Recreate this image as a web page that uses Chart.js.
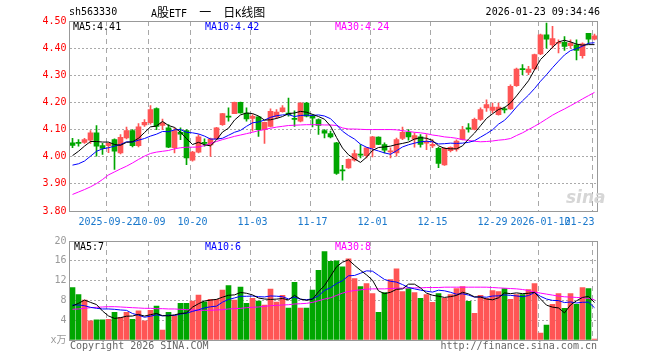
<!DOCTYPE html>
<html><head><meta charset="utf-8">
<script src="https://cdn.jsdelivr.net/npm/chart.js@4.4.1/dist/chart.umd.min.js"></script>
<style>
html,body{margin:0;padding:0;background:#fff;width:660px;height:360px;overflow:hidden;}
#wrap{position:relative;width:660px;height:360px;}
canvas{position:absolute;left:0;}
.t{position:absolute;font-family:"DejaVu Sans Mono",monospace;font-size:10px;line-height:12px;white-space:pre;color:#000;}
.cjk{font-family:"Noto Sans CJK SC",sans-serif;font-size:12px;}
</style></head><body>
<div id="wrap">
<canvas id="pc" width="660" height="236" style="top:0"></canvas>
<canvas id="vc" width="660" height="128" style="top:232px"></canvas>
<div class="t" style="left:69px;top:6px">sh563330</div>
<div class="t" style="left:151px;top:5px;line-height:14px">A<span class="cjk">股</span>ETF  <span class="cjk">一</span>  <span class="cjk">日</span>K<span class="cjk">线图</span></div>
<div class="t" style="right:60px;top:6px">2026-01-23 09:34:46</div>
<div class="t" id="pm5" style="left:73px;top:21px;color:#000"></div>
<div class="t" id="pm10" style="left:205px;top:21px;color:#0000ff"></div>
<div class="t" id="pm30" style="left:335px;top:21px;color:#ff00ff"></div>
<div class="t" id="vm5" style="left:74px;top:241px;color:#000"></div>
<div class="t" id="vm10" style="left:205px;top:241px;color:#0000ff"></div>
<div class="t" id="vm30" style="left:335px;top:241px;color:#ff00ff"></div>
<div class="t" style="left:70px;top:340px;color:#666">Copyright 2026 SINA.COM</div>
<div class="t" style="right:63px;top:340px;color:#666">http://finance.sina.com.cn</div>
<div class="t" style="left:566px;top:188px;font-family:'DejaVu Sans';font-size:17px;font-weight:bold;font-style:italic;color:#d6d6d6;line-height:18px">sina</div>
</div>
<script>
const dates = [
'2025-09-12','2025-09-15','2025-09-16','2025-09-17','2025-09-18','2025-09-19',
'2025-09-22','2025-09-23','2025-09-24','2025-09-25','2025-09-26','2025-09-29','2025-09-30',
'2025-10-09','2025-10-10','2025-10-13','2025-10-14','2025-10-15','2025-10-16','2025-10-17',
'2025-10-20','2025-10-21','2025-10-22','2025-10-23','2025-10-24','2025-10-27','2025-10-28','2025-10-29','2025-10-30','2025-10-31',
'2025-11-03','2025-11-04','2025-11-05','2025-11-06','2025-11-07','2025-11-10','2025-11-11','2025-11-12','2025-11-13','2025-11-14',
'2025-11-17','2025-11-18','2025-11-19','2025-11-20','2025-11-21','2025-11-24','2025-11-25','2025-11-26','2025-11-27','2025-11-28',
'2025-12-01','2025-12-02','2025-12-03','2025-12-04','2025-12-05','2025-12-08','2025-12-09','2025-12-10','2025-12-11','2025-12-12',
'2025-12-15','2025-12-16','2025-12-17','2025-12-18','2025-12-19','2025-12-22','2025-12-23','2025-12-24','2025-12-25','2025-12-26',
'2025-12-29','2025-12-30','2025-12-31',
'2026-01-05','2026-01-06','2026-01-07','2026-01-08','2026-01-09',
'2026-01-12','2026-01-13','2026-01-14','2026-01-15','2026-01-16',
'2026-01-19','2026-01-20','2026-01-21','2026-01-22','2026-01-23'];

const tickDates  = ['2025-09-22','2025-10-09','2025-10-20','2025-11-03','2025-11-17','2025-12-01','2025-12-15','2025-12-29','2026-01-12','2026-01-23'];
const tickLabels = ['2025-09-22','10-09','10-20','11-03','11-17','12-01','12-15','12-29','2026-01-12','01-23     '];

const priceTicks = [3.8,3.9,4.0,4.1,4.2,4.3,4.4,4.5];
const volTicks = [0,4,8,12,16,20];

const open = [4.051,4.051,4.053,4.061,4.088,4.041,4.041,4.063,4.014,4.069,
4.096,4.041,4.117,4.125,4.177,4.115,4.106,4.033,4.090,4.096,
3.987,4.017,4.053,4.043,4.066,4.118,4.148,4.159,4.200,4.161,
4.141,4.147,4.100,4.112,4.147,4.166,4.161,4.141,4.131,4.198,
4.149,4.137,4.096,4.085,4.051,3.952,3.959,3.987,4.010,4.004,
4.033,4.072,4.045,4.018,4.014,4.067,4.090,4.065,4.073,4.050,
4.040,4.031,3.970,4.022,4.028,4.064,4.106,4.101,4.137,4.180,
4.171,4.155,4.176,4.176,4.262,4.325,4.311,4.323,4.379,4.449,
4.412,4.418,4.421,4.409,4.412,4.372,4.455,4.433];

const high = [4.068,4.063,4.068,4.096,4.115,4.049,4.051,4.066,4.082,4.109,
4.100,4.122,4.137,4.188,4.180,4.139,4.118,4.106,4.106,4.100,
4.020,4.082,4.066,4.069,4.108,4.160,4.180,4.201,4.201,4.180,
4.155,4.148,4.128,4.176,4.174,4.188,4.216,4.169,4.199,4.200,
4.155,4.140,4.100,4.094,4.053,3.968,3.992,4.024,4.045,4.034,
4.075,4.073,4.051,4.033,4.069,4.109,4.100,4.088,4.082,4.082,
4.063,4.035,4.034,4.036,4.062,4.112,4.122,4.142,4.180,4.210,
4.198,4.198,4.183,4.265,4.327,4.339,4.333,4.378,4.452,4.492,
4.480,4.431,4.443,4.431,4.431,4.420,4.455,4.452];

const low = [4.033,4.039,4.049,4.049,4.002,4.008,4.015,3.953,4.010,4.066,
4.036,4.036,4.112,4.120,4.100,4.100,4.033,4.014,4.063,3.971,
3.984,4.014,4.039,4.001,4.064,4.115,4.131,4.159,4.160,4.131,
4.094,4.075,4.049,4.110,4.140,4.164,4.149,4.112,4.128,4.147,
4.110,4.082,4.069,4.069,3.935,3.914,3.957,3.984,3.996,3.996,
3.999,4.044,4.014,3.996,4.002,4.063,4.061,4.035,4.035,4.026,
4.033,3.960,3.968,4.018,4.020,4.062,4.090,4.099,4.134,4.167,
4.161,4.153,4.161,4.174,4.259,4.302,4.302,4.321,4.376,4.400,
4.400,4.382,4.392,4.400,4.357,4.363,4.416,4.430];

const close = [4.042,4.049,4.063,4.088,4.039,4.031,4.049,4.020,4.071,4.096,
4.041,4.110,4.127,4.174,4.112,4.125,4.035,4.096,4.083,3.996,
4.017,4.073,4.049,4.066,4.106,4.159,4.146,4.200,4.161,4.139,
4.149,4.100,4.127,4.167,4.164,4.180,4.155,4.137,4.198,4.149,
4.142,4.115,4.087,4.073,3.938,3.948,3.990,4.012,4.006,4.033,
4.073,4.045,4.024,4.022,4.063,4.090,4.073,4.078,4.045,4.056,
4.046,3.975,4.031,4.035,4.058,4.100,4.102,4.138,4.174,4.192,
4.183,4.183,4.172,4.259,4.323,4.321,4.323,4.376,4.449,4.433,
4.435,4.421,4.406,4.419,4.392,4.416,4.433,4.445];

const ma5 = [4.004,4.020,4.039,4.056,4.056,4.054,4.054,4.045,4.042,4.053,
4.055,4.068,4.089,4.110,4.113,4.130,4.115,4.108,4.090,4.067,
4.045,4.053,4.044,4.040,4.062,4.091,4.105,4.135,4.154,4.161,
4.159,4.150,4.135,4.136,4.141,4.148,4.159,4.161,4.167,4.164,
4.156,4.148,4.138,4.113,4.071,4.032,4.007,3.992,3.979,3.998,
4.023,4.034,4.036,4.039,4.045,4.049,4.054,4.065,4.070,4.068,
4.060,4.040,4.031,4.029,4.029,4.040,4.065,4.087,4.114,4.141,
4.158,4.174,4.181,4.198,4.224,4.252,4.280,4.320,4.358,4.380,
4.403,4.423,4.429,4.423,4.415,4.411,4.413,4.413];

const ma10 = [3.969,3.974,3.984,4.002,4.020,4.029,4.033,4.039,4.045,4.055,
4.054,4.061,4.067,4.076,4.083,4.093,4.092,4.099,4.100,4.090,
4.088,4.084,4.076,4.065,4.065,4.068,4.079,4.090,4.097,4.112,
4.125,4.128,4.135,4.145,4.151,4.154,4.155,4.148,4.152,4.153,
4.152,4.154,4.150,4.140,4.118,4.094,4.078,4.065,4.046,4.035,
4.028,4.021,4.014,4.009,4.022,4.036,4.044,4.050,4.055,4.057,
4.055,4.047,4.048,4.050,4.049,4.050,4.053,4.059,4.072,4.085,
4.099,4.120,4.134,4.157,4.183,4.206,4.227,4.251,4.278,4.302,
4.328,4.352,4.375,4.391,4.398,4.407,4.418,4.420];

const ma30 = [3.861,3.870,3.879,3.889,3.901,3.916,3.933,3.944,3.955,3.965,
3.977,3.990,4.002,4.012,4.017,4.020,4.023,4.029,4.033,4.035,
4.035,4.036,4.041,4.049,4.056,4.063,4.069,4.075,4.080,4.085,
4.090,4.096,4.100,4.105,4.109,4.112,4.115,4.116,4.117,4.118,
4.118,4.118,4.117,4.117,4.115,4.106,4.102,4.102,4.101,4.100,
4.100,4.100,4.100,4.100,4.099,4.096,4.093,4.090,4.088,4.085,
4.080,4.077,4.073,4.071,4.068,4.063,4.060,4.057,4.055,4.056,
4.058,4.061,4.063,4.067,4.078,4.088,4.100,4.112,4.125,4.139,
4.153,4.165,4.176,4.188,4.200,4.213,4.225,4.237];

const volume = [10.6,9.2,8.07,3.87,4.07,4.07,4.2,5.6,4.6,5.6,
4.2,5.87,3.87,6.0,6.87,2.0,5.6,4.93,7.4,7.4,
7.87,9.07,7.73,8.2,8.2,10.07,11.0,8.07,10.67,7.4,
8.4,7.87,7.07,10.27,7.67,9.0,6.47,11.67,6.47,6.47,
10.07,14.07,17.87,15.87,16.0,14.8,16.4,12.4,10.8,11.4,
9.4,5.6,9.6,12.2,14.4,9.8,10.4,9.6,8.4,9.2,
7.6,9.4,8.4,9.2,10.4,10.8,7.8,5.4,9.0,8.4,
10.0,9.8,10.4,8.2,9.2,9.2,10.2,11.4,1.4,3.0,
7.2,9.4,6.4,9.4,7.2,10.6,10.4,0.2];

const volMa5 = [6.9,7.4,8.07,7.6,7.16,5.86,4.86,4.36,4.51,4.81,
4.84,5.17,4.83,5.11,5.36,4.92,4.87,5.08,5.36,5.47,
6.64,7.33,7.89,8.05,8.21,8.65,9.04,9.11,9.60,9.44,
9.11,8.48,8.28,8.20,8.26,8.38,8.10,9.02,8.26,8.02,
8.23,9.75,10.99,12.87,14.78,15.72,16.19,15.09,14.08,13.16,
12.08,9.92,9.36,9.64,10.24,10.32,11.28,11.28,10.52,9.48,
9.04,8.84,8.6,8.76,9.0,9.64,9.32,8.72,8.68,8.28,
8.12,8.52,9.52,9.36,9.52,9.36,9.44,9.64,8.28,7.04,
6.64,6.48,5.48,7.08,7.92,8.6,8.8,7.56];

const volMa10 = [7.07,7.07,6.93,6.6,6.4,6.27,6.27,6.2,6.07,5.99,
5.35,5.02,4.60,4.81,5.09,4.88,5.02,4.96,5.24,5.42,
5.78,6.10,6.49,6.71,6.84,7.65,8.19,8.50,8.83,8.83,
8.88,8.76,8.70,8.90,8.85,8.75,8.29,8.65,8.23,8.14,
8.31,8.93,10.01,10.57,11.40,11.98,12.97,13.04,13.48,13.97,
13.90,13.06,12.23,11.86,11.70,11.20,10.60,10.32,10.08,9.86,
9.68,10.06,9.94,9.64,9.24,9.34,9.08,8.66,8.72,8.64,
8.88,8.92,9.12,9.02,8.90,8.74,8.98,9.58,8.82,8.28,
8.00,7.96,7.56,7.68,7.48,7.62,7.64,6.52];

const volMa30 = [6.2,6.27,6.4,6.53,6.6,6.67,6.73,6.73,6.67,6.6,
6.53,6.47,6.4,6.4,6.33,6.33,6.27,6.27,6.2,6.13,
6.07,6.0,6.0,6.0,6.07,6.13,6.27,6.33,6.4,6.53,
6.6,6.67,6.8,6.93,7.0,7.07,7.13,7.27,7.33,7.4,
7.6,7.93,8.27,8.53,9.0,9.47,9.8,10.0,10.13,10.27,
10.33,10.33,10.33,10.4,10.47,10.47,10.53,10.53,10.53,10.6,
10.6,10.6,10.67,10.67,10.67,10.67,10.67,10.67,10.67,10.67,
10.6,10.53,10.47,10.4,10.33,10.2,10.0,9.67,9.47,9.27,
9.07,8.87,8.73,8.67,8.6,8.53,8.4,8.13];

const legendPrice = {ma5:'4.41', ma10:'4.42', ma30:'4.24'};
const legendVol = {ma5:'7', ma10:'6', ma30:'8'};

document.getElementById('pm5').textContent = 'MA5:' + legendPrice.ma5;
document.getElementById('pm10').textContent = 'MA10:' + legendPrice.ma10;
document.getElementById('pm30').textContent = 'MA30:' + legendPrice.ma30;
document.getElementById('vm5').textContent = 'MA5:' + legendVol.ma5;
document.getElementById('vm10').textContent = 'MA10:' + legendVol.ma10;
document.getElementById('vm30').textContent = 'MA30:' + legendVol.ma30;

const RED = '#ff5555', GREEN = '#00a600';
const candleColors = close.map((c, i) => c >= open[i] ? RED : GREEN);
const bodies = open.map((o, i) => [o, close[i]]);
const wicks = low.map((l, i) => [l, high[i]]);
const tickIdx = tickDates.map(d => dates.indexOf(d));
const MONO = '"DejaVu Sans Mono", "Noto Sans CJK SC", monospace';

const al = v => Math.round(v - 0.5) + 0.5;
const framePlugin = {
  id: 'frame',
  beforeDatasetsDraw(chart) {
    const {ctx, chartArea: a, scales: {x}} = chart;
    ctx.save();
    ctx.strokeStyle = '#a8a8a8';
    ctx.lineWidth = 1;
    ctx.setLineDash([5, 4]);
    tickIdx.forEach(i => {
      const px = al(x.getPixelForValue(i) - 2);
      ctx.beginPath();
      ctx.moveTo(px, a.top);
      ctx.lineTo(px, a.bottom);
      ctx.stroke();
    });
    ctx.restore();
  },
  afterDraw(chart) {
    const {ctx, chartArea: a} = chart;
    ctx.save();
    ctx.strokeStyle = '#999';
    ctx.lineWidth = 1;
    ctx.setLineDash([]);
    const L = al(a.left), R = al(a.right), T = al(a.top), B = al(a.bottom);
    ctx.strokeRect(L, T, R - L, B - T);
    ctx.restore();
  }
};

function lineDs(label, data, color) {
  return {type: 'line', label, data, borderColor: color, borderWidth: 1, pointRadius: 0,
          tension: 0, fill: false, order: 0};
}

new Chart(document.getElementById('pc'), {
  type: 'bar',
  data: {
    labels: dates,
    datasets: [
      lineDs('MA5', ma5, '#000000'),
      lineDs('MA10', ma10, '#0000ff'),
      lineDs('MA30', ma30, '#ff00ff'),
      {label: 'body', data: bodies, backgroundColor: candleColors, barThickness: 5,
       grouped: false, minBarLength: 1, borderWidth: 0, order: 1},
      {label: 'wick', data: wicks, backgroundColor: candleColors, barThickness: 1,
       grouped: false, borderWidth: 0, order: 2}
    ]
  },
  options: {
    responsive: false, animation: false, devicePixelRatio: 1, events: [],
    layout: {padding: {left: 0, right: 62.5, top: 21, bottom: 0}},
    plugins: {legend: {display: false}, tooltip: {enabled: false}},
    scales: {
      x: {
        type: 'category', offset: true,
        grid: {display: false, drawTicks: false}, border: {display: false},
        ticks: {
          autoSkip: false, maxRotation: 0, minRotation: 0, padding: 5,
          color: '#1a78cc', font: {family: MONO, size: 10},
          callback: (v, i) => { const k = tickIdx.indexOf(i); return k >= 0 ? tickLabels[k] : ''; }
        },
        afterFit(s) { s.height = 25; }
      },
      y: {
        min: priceTicks[0], max: priceTicks[priceTicks.length - 1],
        afterBuildTicks(s) { s.ticks = priceTicks.map(v => ({value: v})); },
        grid: {color: '#aaaaaa', drawTicks: false, lineWidth: 1},
        border: {display: false, dash: [2, 2]},
        ticks: {color: '#ff0000', padding: 3, font: {family: MONO, size: 10},
                callback: v => Number(v).toFixed(2)},
        afterFit(s) { s.width = 69.5; }
      }
    }
  },
  plugins: [framePlugin]
});

new Chart(document.getElementById('vc'), {
  type: 'bar',
  data: {
    labels: dates,
    datasets: [
      lineDs('MA5', volMa5, '#000000'),
      lineDs('MA10', volMa10, '#0000ff'),
      lineDs('MA30', volMa30, '#ff00ff'),
      {label: 'vol', data: volume, backgroundColor: candleColors, barThickness: 5,
       borderWidth: 0, order: 1}
    ]
  },
  options: {
    responsive: false, animation: false, devicePixelRatio: 1, events: [],
    layout: {padding: {left: 0, right: 62.5, top: 8, bottom: 20}},
    plugins: {legend: {display: false}, tooltip: {enabled: false}},
    scales: {
      x: {type: 'category', offset: true, display: false},
      y: {
        min: 0, max: 20,
        afterBuildTicks(s) { s.ticks = volTicks.map(v => ({value: v})); },
        grid: {color: '#aaaaaa', drawTicks: false, lineWidth: 1},
        border: {display: false, dash: [2, 2]},
        ticks: {color: '#999999', padding: 3, font: {family: MONO, size: 10},
                callback: v => v === 0 ? 'x万' : String(v)},
        afterFit(s) { s.width = 69.5; }
      }
    }
  },
  plugins: [framePlugin]
});
</script>
</body></html>
